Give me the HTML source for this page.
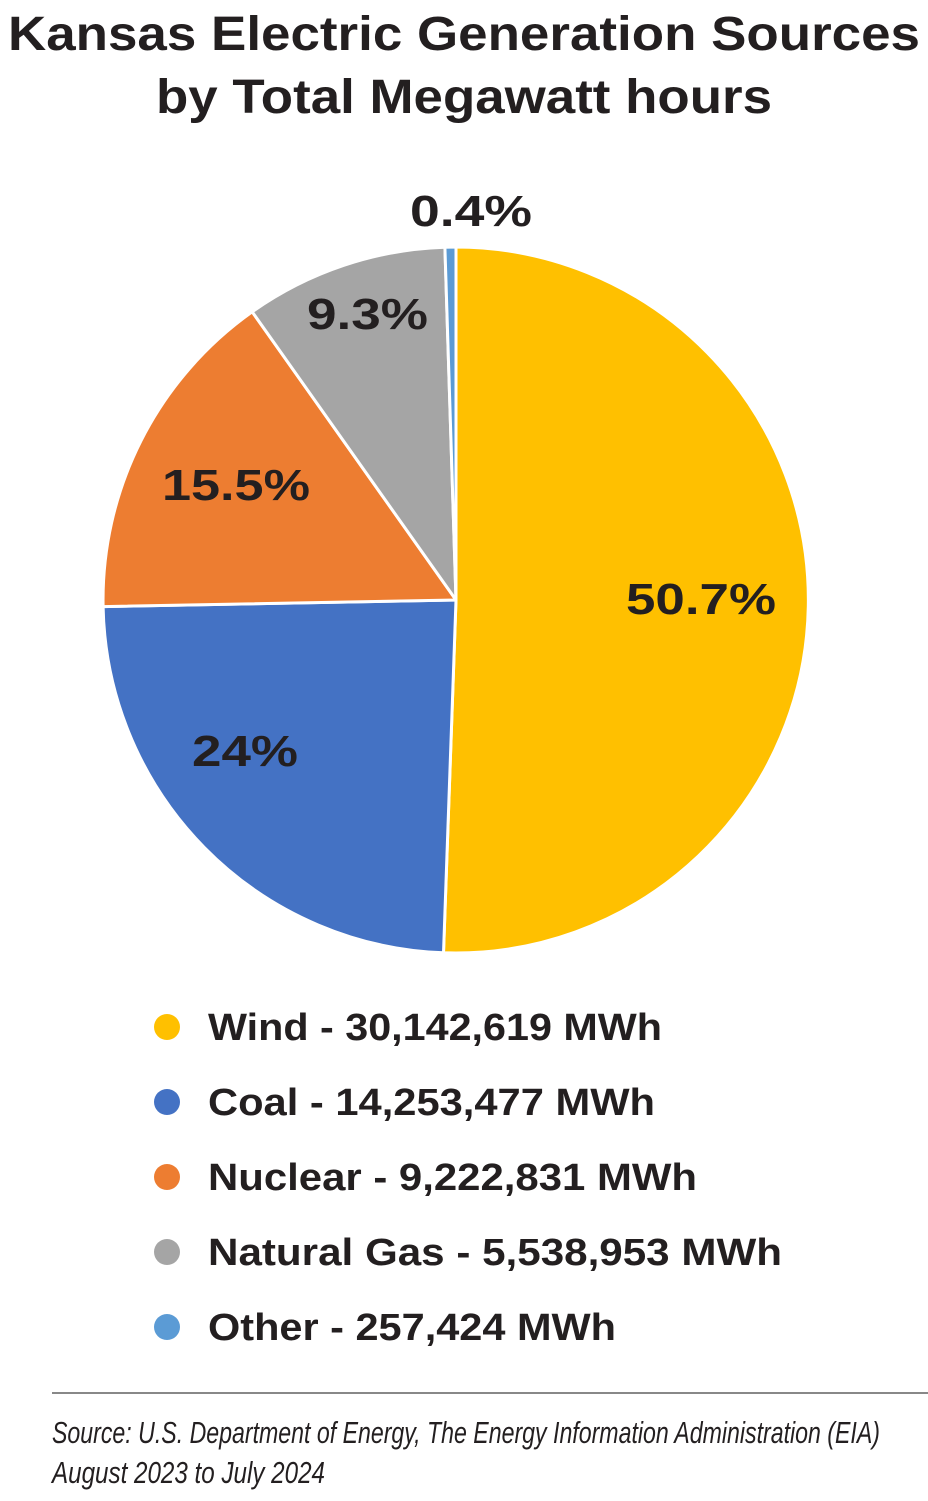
<!DOCTYPE html>
<html><head><meta charset="utf-8"><style>html,body{margin:0;padding:0;background:#fff}svg{display:block}</style></head>
<body>
<svg width="928" height="1501" viewBox="0 0 928 1501" xmlns="http://www.w3.org/2000/svg">
<g font-family="Liberation Sans, sans-serif" font-weight="bold" fill="#231f20">
<text x="8" y="50" font-size="48" textLength="912" lengthAdjust="spacingAndGlyphs">Kansas Electric Generation Sources</text>
<text x="156" y="113" font-size="48" textLength="616" lengthAdjust="spacingAndGlyphs">by Total Megawatt hours</text>
</g>
<g stroke="#fff" stroke-width="3" stroke-linejoin="round">
<path d="M456,600 L456,247 A353,353 0 1,1 443.5,952.8 Z" fill="#FFC000"/>
<path d="M456,600 L443.5,952.8 A353,353 0 0,1 103.1,606.6 Z" fill="#4472C4"/>
<path d="M456,600 L103.1,606.6 A353,353 0 0,1 252.2,311.8 Z" fill="#ED7D31"/>
<path d="M456,600 L252.2,311.8 A353,353 0 0,1 444.9,247.2 Z" fill="#A5A5A5"/>
<path d="M456,600 L444.9,247.2 A353,353 0 0,1 456,247 Z" fill="#5B9BD5"/>
</g>
<g font-family="Liberation Sans, sans-serif" font-weight="bold" fill="#231f20" font-size="44">
<text x="626" y="614" textLength="150" lengthAdjust="spacingAndGlyphs">50.7%</text>
<text x="192" y="766" textLength="106" lengthAdjust="spacingAndGlyphs">24%</text>
<text x="162" y="500" textLength="148" lengthAdjust="spacingAndGlyphs">15.5%</text>
<text x="307" y="329" textLength="121" lengthAdjust="spacingAndGlyphs">9.3%</text>
<text x="410" y="226" textLength="122" lengthAdjust="spacingAndGlyphs">0.4%</text>
</g>
<g>
<circle cx="167" cy="1027" r="13" fill="#FFC000"/>
<circle cx="167" cy="1102" r="13" fill="#4472C4"/>
<circle cx="167" cy="1177" r="13" fill="#ED7D31"/>
<circle cx="167" cy="1252" r="13" fill="#A5A5A5"/>
<circle cx="167" cy="1327" r="13" fill="#5B9BD5"/>
</g>
<g font-family="Liberation Sans, sans-serif" font-weight="bold" fill="#231f20" font-size="38">
<text x="208" y="1040" textLength="454" lengthAdjust="spacingAndGlyphs">Wind - 30,142,619 MWh</text>
<text x="208" y="1115" textLength="447" lengthAdjust="spacingAndGlyphs">Coal - 14,253,477 MWh</text>
<text x="208" y="1190" textLength="489" lengthAdjust="spacingAndGlyphs">Nuclear - 9,222,831 MWh</text>
<text x="208" y="1265" textLength="574" lengthAdjust="spacingAndGlyphs">Natural Gas - 5,538,953 MWh</text>
<text x="208" y="1340" textLength="408" lengthAdjust="spacingAndGlyphs">Other - 257,424 MWh</text>
</g>
<line x1="52" y1="1393" x2="928" y2="1393" stroke="#888" stroke-width="2"/>
<g font-family="Liberation Sans Narrow, Liberation Sans, sans-serif" font-style="italic" fill="#231f20" font-size="31">
<text x="52" y="1443" textLength="828" lengthAdjust="spacingAndGlyphs">Source: U.S. Department of Energy, The Energy Information Administration (EIA)</text>
<text x="52" y="1483" textLength="273" lengthAdjust="spacingAndGlyphs">August 2023 to July 2024</text>
</g>
</svg>
</body></html>
